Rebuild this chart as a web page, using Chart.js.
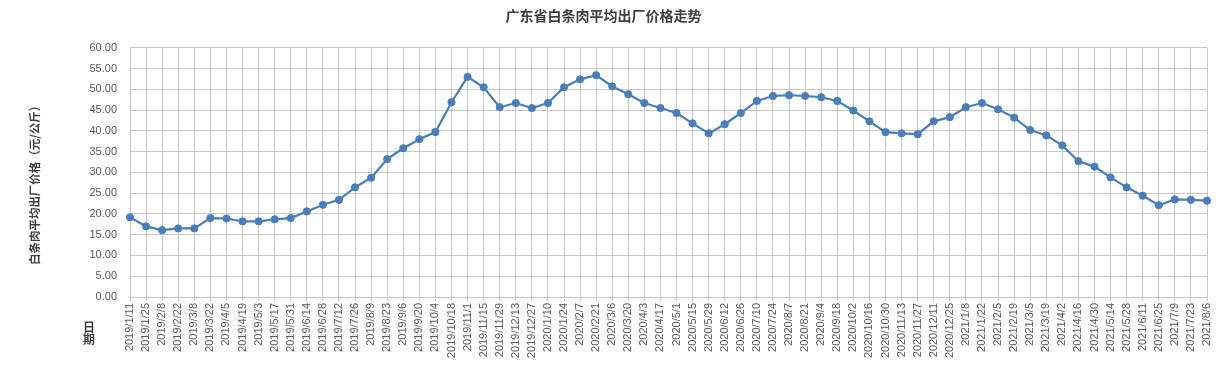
<!DOCTYPE html>
<html>
<head>
<meta charset="utf-8">
<title>广东省白条肉平均出厂价格走势</title>
<script src="https://cdn.jsdelivr.net/npm/chart.js@4/dist/chart.umd.min.js"></script>
<style>
  html, body { margin: 0; padding: 0; background: #fff; }
  #chart { display: block; }
</style>
</head>
<body>
<canvas id="chart" width="1232" height="365"></canvas>
<script>
// Chart texts
const chartTitle = '广东省白条肉平均出厂价格走势';
const yAxisTitle = '白条肉平均出厂价格（元/公斤）';
const xAxisTitle = ['日', '期'];

// Dates (every two weeks)
const dates = [
    '2019/1/11', '2019/1/25', '2019/2/8', '2019/2/22', '2019/3/8', '2019/3/22',
    '2019/4/5', '2019/4/19', '2019/5/3', '2019/5/17', '2019/5/31', '2019/6/14',
    '2019/6/28', '2019/7/12', '2019/7/26', '2019/8/9', '2019/8/23', '2019/9/6',
    '2019/9/20', '2019/10/4', '2019/10/18', '2019/11/1', '2019/11/15', '2019/11/29',
    '2019/12/13', '2019/12/27', '2020/1/10', '2020/1/24', '2020/2/7', '2020/2/21',
    '2020/3/6', '2020/3/20', '2020/4/3', '2020/4/17', '2020/5/1', '2020/5/15',
    '2020/5/29', '2020/6/12', '2020/6/26', '2020/7/10', '2020/7/24', '2020/8/7',
    '2020/8/21', '2020/9/4', '2020/9/18', '2020/10/2', '2020/10/16', '2020/10/30',
    '2020/11/13', '2020/11/27', '2020/12/11', '2020/12/25', '2021/1/8', '2021/1/22',
    '2021/2/5', '2021/2/19', '2021/3/5', '2021/3/19', '2021/4/2', '2021/4/16',
    '2021/4/30', '2021/5/14', '2021/5/28', '2021/6/11', '2021/6/25', '2021/7/9',
    '2021/7/23', '2021/8/6'
];

// Average price (yuan/kg)
const prices = [
    19.2, 17.0, 16.1, 16.5, 16.5, 19.0,
    18.9, 18.2, 18.2, 18.7, 19.0, 20.6,
    22.2, 23.4, 26.4, 28.7, 33.2, 35.8,
    38.0, 39.7, 46.9, 53.0, 50.5, 45.7,
    46.7, 45.5, 46.7, 50.5, 52.4, 53.4,
    50.7, 48.8, 46.7, 45.5, 44.3, 41.8,
    39.4, 41.6, 44.3, 47.2, 48.4, 48.6,
    48.4, 48.1, 47.2, 44.9, 42.3, 39.7,
    39.4, 39.2, 42.3, 43.3, 45.7, 46.7,
    45.2, 43.2, 40.2, 38.9, 36.5, 32.7,
    31.4, 28.8, 26.4, 24.4, 22.1, 23.5,
    23.4, 23.2
];

// Y axis range
const yMin = 0;
const yMax = 60;
const yStep = 5;

const lineColor = '#4a7ebb';
const gridColor = '#c8c8c8';
const tickColor = '#595959';
const titleColor = '#404040';
const cjkFont = '"Noto Sans CJK SC", "Noto Sans", sans-serif';

// Draws the white background and the two axis titles
const axisTitles = {
    id: 'axisTitles',
    beforeDraw(chart) {
        const ctx = chart.ctx;
        ctx.save();
        ctx.fillStyle = '#ffffff';
        ctx.fillRect(0, 0, chart.width, chart.height);
        ctx.restore();
    },
    afterDraw(chart) {
        const ctx = chart.ctx;
        const area = chart.chartArea;
        ctx.save();
        ctx.fillStyle = titleColor;
        ctx.font = 'bold 11.5px ' + cjkFont;
        ctx.textAlign = 'center';
        ctx.textBaseline = 'middle';

        // vertical y title
        ctx.save();
        ctx.translate(area.left - 95, (area.top + area.bottom) / 2 + 10);
        ctx.rotate(-Math.PI / 2);
        ctx.fillText(yAxisTitle, 0, 0);
        ctx.restore();

        // "日期" stacked under the y tick labels
        ctx.font = 'bold 12px ' + cjkFont;
        xAxisTitle.forEach((ch, i) => {
            ctx.fillText(ch, area.left - 41, area.bottom + 30 + i * 12);
        });
        ctx.restore();
    }
};

new Chart(document.getElementById('chart'), {
    type: 'line',
    data: {
        labels: dates,
        datasets: [{
            data: prices,
            borderColor: lineColor,
            backgroundColor: lineColor,
            borderWidth: 2.2,
            pointRadius: 3.6,
            pointHoverRadius: 3.6,
            pointBorderWidth: 1,
            pointBackgroundColor: lineColor,
            pointBorderColor: lineColor,
            tension: 0,
            fill: false
        }]
    },
    options: {
        responsive: false,
        animation: false,
        devicePixelRatio: 1,
        layout: { padding: { left: 0, right: 25, top: 0, bottom: 0 } },
        plugins: {
            legend: { display: false },
            tooltip: { enabled: false },
            title: {
                display: true,
                text: chartTitle,
                color: titleColor,
                font: { family: cjkFont, size: 14, weight: 'bold', lineHeight: 1.2 },
                padding: { top: 7, bottom: 24 }
            }
        },
        scales: {
            x: {
                type: 'category',
                offset: false,
                grid: {
                    color: gridColor,
                    lineWidth: 1,
                    offset: false,
                    drawTicks: true,
                    tickLength: 4
                },
                border: { color: gridColor },
                ticks: {
                    color: tickColor,
                    font: { family: '"Liberation Sans", Arial, sans-serif', size: 11 },
                    minRotation: 90,
                    maxRotation: 90,
                    autoSkip: false,
                    padding: 2
                },
                afterFit(scale) { scale.height = 68; }
            },
            y: {
                min: yMin,
                max: yMax,
                grid: { color: gridColor, lineWidth: 1, drawTicks: false },
                border: { display: false },
                ticks: {
                    stepSize: yStep,
                    color: tickColor,
                    font: { family: '"Liberation Sans", Arial, sans-serif', size: 11 },
                    padding: 13,
                    callback: (v) => Number(v).toFixed(2)
                },
                afterFit(scale) { scale.width = 130; }
            }
        }
    },
    plugins: [axisTitles]
});
</script>
</body>
</html>
